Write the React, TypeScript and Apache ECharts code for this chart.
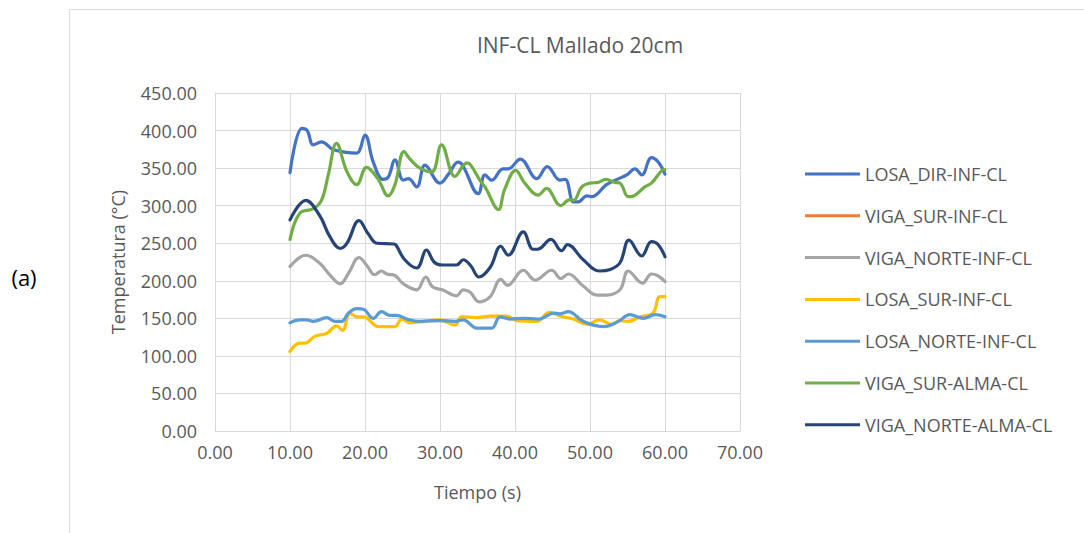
import React, { useEffect, useRef } from "react";
import * as echarts from "echarts";

const seriesNames = [
  "LOSA_DIR-INF-CL",
  "VIGA_SUR-INF-CL",
  "VIGA_NORTE-INF-CL",
  "LOSA_SUR-INF-CL",
  "LOSA_NORTE-INF-CL",
  "VIGA_SUR-ALMA-CL",
  "VIGA_NORTE-ALMA-CL",
];
const colors = ["#4472C4", "#ED7D31", "#A5A5A5", "#FFC000", "#5B9BD5", "#70AD47", "#264478"];

const losaDir: number[][] = [
  [10, 344], [11.6, 403], [12.3, 400], [13.1, 381], [14.2, 385], [15.7, 375], [17.5, 371], [18.9, 370],
  [20, 394], [21.1, 358], [22.4, 335], [23.1, 338], [24, 361], [25.1, 334], [25.8, 336], [26.9, 325],
  [28, 354], [30, 330], [31.2, 343], [32.4, 358], [33, 354], [35.1, 316], [36, 341], [36.9, 334],
  [38.4, 349], [39.1, 349], [40.7, 362], [42.9, 336], [44.3, 352], [46, 334], [46.7, 335], [47.8, 305],
  [48.4, 305], [49.6, 313], [50.2, 312], [52.2, 328], [53.6, 335], [54.9, 341], [56, 349], [56.9, 341],
  [58.2, 364], [59.1, 358], [60, 342],
];
const vigaSurInf: number[][] = [];
const vigaNorteInf: number[][] = [
  [10, 219], [12.1, 234], [14, 223], [15.3, 208], [16.7, 196], [17.8, 210], [19.2, 231], [20.2, 221],
  [21.3, 208], [22.2, 213], [22.9, 209], [24, 207], [25.1, 196], [26.9, 188], [28.1, 205], [29, 192],
  [30.3, 188], [32.2, 180], [33.1, 188], [34, 185], [35.2, 172], [36.7, 179], [38.1, 202], [39, 194],
  [41.1, 214], [42.7, 201], [44.9, 214], [46.1, 203], [47.1, 209], [49.1, 193], [50.9, 181], [52.2, 181],
  [54, 188], [55.1, 213], [57, 197], [58.2, 209], [59, 207], [60, 199],
];
const losaSur: number[][] = [
  [10, 106], [11.3, 117], [12, 117], [13.3, 126], [14.9, 130], [16.2, 140], [17, 134], [18, 157],
  [18.9, 152], [19.8, 152], [21.8, 139], [24, 139], [24.9, 149], [26, 144], [28, 146], [30, 148],
  [32, 141], [32.9, 152], [34.9, 151], [36.7, 153], [38.9, 153], [40.2, 147], [42.9, 146], [44.6, 158],
  [46, 153], [47.8, 149], [49.6, 142], [51.3, 148], [52.9, 142], [54, 147], [55.1, 146], [56.7, 152],
  [58.4, 157], [59.3, 179], [60, 179],
];
const losaNorte: number[][] = [
  [10, 144], [11.3, 148], [12.2, 148], [13.1, 146], [14.9, 151], [16, 146], [16.9, 146], [17.8, 157],
  [18.9, 163], [19.8, 162], [21.1, 150], [22.2, 159], [23.3, 154], [24.2, 154], [25.6, 149], [27.3, 146],
  [30, 147], [32, 146], [33.1, 148], [34.9, 137], [36.9, 137], [38, 152], [39.3, 149], [41.1, 150],
  [43.1, 149], [44.4, 154], [45.1, 157], [46, 156], [47.1, 159], [49.1, 146], [51.8, 139], [53.8, 146],
  [55.3, 155], [57.1, 150], [58.7, 155], [60, 152],
];
const vigaSurAlma: number[][] = [
  [10, 255], [11.3, 290], [13.1, 296], [14.2, 307], [15.1, 341], [16.2, 383], [17.6, 345], [18.9, 328],
  [20.2, 351], [21.7, 336], [23.1, 313], [24, 328], [25.2, 372], [26, 362], [27.3, 350], [28.9, 345],
  [30.2, 381], [32, 339], [33.6, 357], [34.1, 354], [35.3, 334], [36, 325], [37.8, 295], [38.6, 321],
  [40.1, 347], [41.3, 330], [43.1, 314], [44.2, 323], [46.1, 300], [47.3, 308], [47.8, 307], [48.9, 325],
  [50, 330], [51.1, 331], [52.1, 335], [53.3, 331], [54, 330], [55.1, 312], [55.8, 313], [57.3, 325],
  [58.2, 330], [59.6, 347], [60, 348],
];
const vigaNorteAlma: number[][] = [
  [10, 281], [12.1, 307], [14, 286], [15.3, 259], [16.7, 243], [17.6, 250], [19.2, 280], [20.4, 263],
  [21.6, 250], [23.8, 249], [24.1, 248], [25.3, 228], [26.9, 217], [28.2, 241], [29.2, 225], [30.3, 221],
  [32.2, 221], [33.1, 228], [34.1, 220], [35.2, 205], [36.7, 218], [38.1, 246], [39.1, 234], [41.1, 265],
  [42.4, 242], [43, 242], [44.8, 255], [46.2, 240], [47, 248], [49.1, 228], [51.3, 213], [52.7, 215],
  [54, 224], [55.2, 254], [56.9, 233], [58.2, 252], [59.1, 248], [60, 232],
];

const allData = [losaDir, vigaSurInf, vigaNorteInf, losaSur, losaNorte, vigaSurAlma, vigaNorteAlma];

const FONT = "'Open Sans', sans-serif";
const TXT = "#595959";
const GRID = "#D9D9D9";

export default function App() {
  const ref = useRef<HTMLDivElement>(null);
  useEffect(() => {
    document.body.style.margin = "0";
    const chart = echarts.init(ref.current!, null, { renderer: "svg" });
    chart.setOption({
      animation: false,
      backgroundColor: "#ffffff",
      textStyle: { fontFamily: FONT },
      grid: { left: 215, right: 344, top: 93, bottom: 102, containLabel: false },
      legend: {
        orient: "vertical",
        left: 800,
        top: 160,
        itemWidth: 55,
        itemHeight: 3,
        itemGap: 23.8,
        icon: "rect",
        data: seriesNames,
        textStyle: { fontFamily: FONT, fontSize: 18, color: TXT },
      },
      xAxis: {
        type: "value",
        min: 0,
        max: 70,
        interval: 10,
        name: "Tiempo (s)",
        nameLocation: "middle",
        nameGap: 52,
        nameTextStyle: { fontFamily: FONT, fontSize: 18, color: TXT },
        axisLine: { show: true, lineStyle: { color: GRID, width: 1 } },
        axisTick: { show: false },
        axisLabel: { formatter: (v: number) => v.toFixed(2), fontFamily: FONT, fontSize: 18, color: TXT, margin: 12 },
        splitLine: { show: true, lineStyle: { color: GRID, width: 1 } },
      },
      yAxis: {
        type: "value",
        min: 0,
        max: 450,
        interval: 50,
        name: "Temperatura (°C)",
        nameLocation: "middle",
        nameGap: 88,
        nameTextStyle: { fontFamily: FONT, fontSize: 18, color: TXT },
        axisLine: { show: true, lineStyle: { color: GRID, width: 1 } },
        axisTick: { show: false },
        axisLabel: { formatter: (v: number) => v.toFixed(2), fontFamily: FONT, fontSize: 18, color: TXT, margin: 18 },
        splitLine: { show: true, lineStyle: { color: GRID, width: 1 } },
      },
      graphic: [
        { type: "line", shape: { x1: 69.5, y1: 9.5, x2: 1084, y2: 9.5 }, style: { stroke: GRID, lineWidth: 1 } },
        { type: "line", shape: { x1: 69.5, y1: 9.5, x2: 69.5, y2: 533 }, style: { stroke: GRID, lineWidth: 1 } },
        {
          type: "text",
          x: 580,
          y: 45,
          style: { text: "INF-CL Mallado 20cm", font: `21px ${FONT}`, fill: TXT, textAlign: "center", textVerticalAlign: "middle" },
        },
        {
          type: "text",
          x: 24,
          y: 277,
          style: { text: "(a)", font: `22px ${FONT}`, fill: "#000000", textAlign: "center", textVerticalAlign: "middle" },
        },
      ],
      series: seriesNames.map((name, i) => ({
        name,
        type: "line",
        data: allData[i],
        smooth: 0.4,
        showSymbol: false,
        symbol: "none",
        color: colors[i],
        lineStyle: { color: colors[i], width: 3.2, cap: "round", join: "round" },
      })),
    });
    return () => chart.dispose();
  }, []);
  return <div ref={ref} style={{ width: 1084, height: 533, position: "absolute", left: 0, top: 0 }} />;
}
